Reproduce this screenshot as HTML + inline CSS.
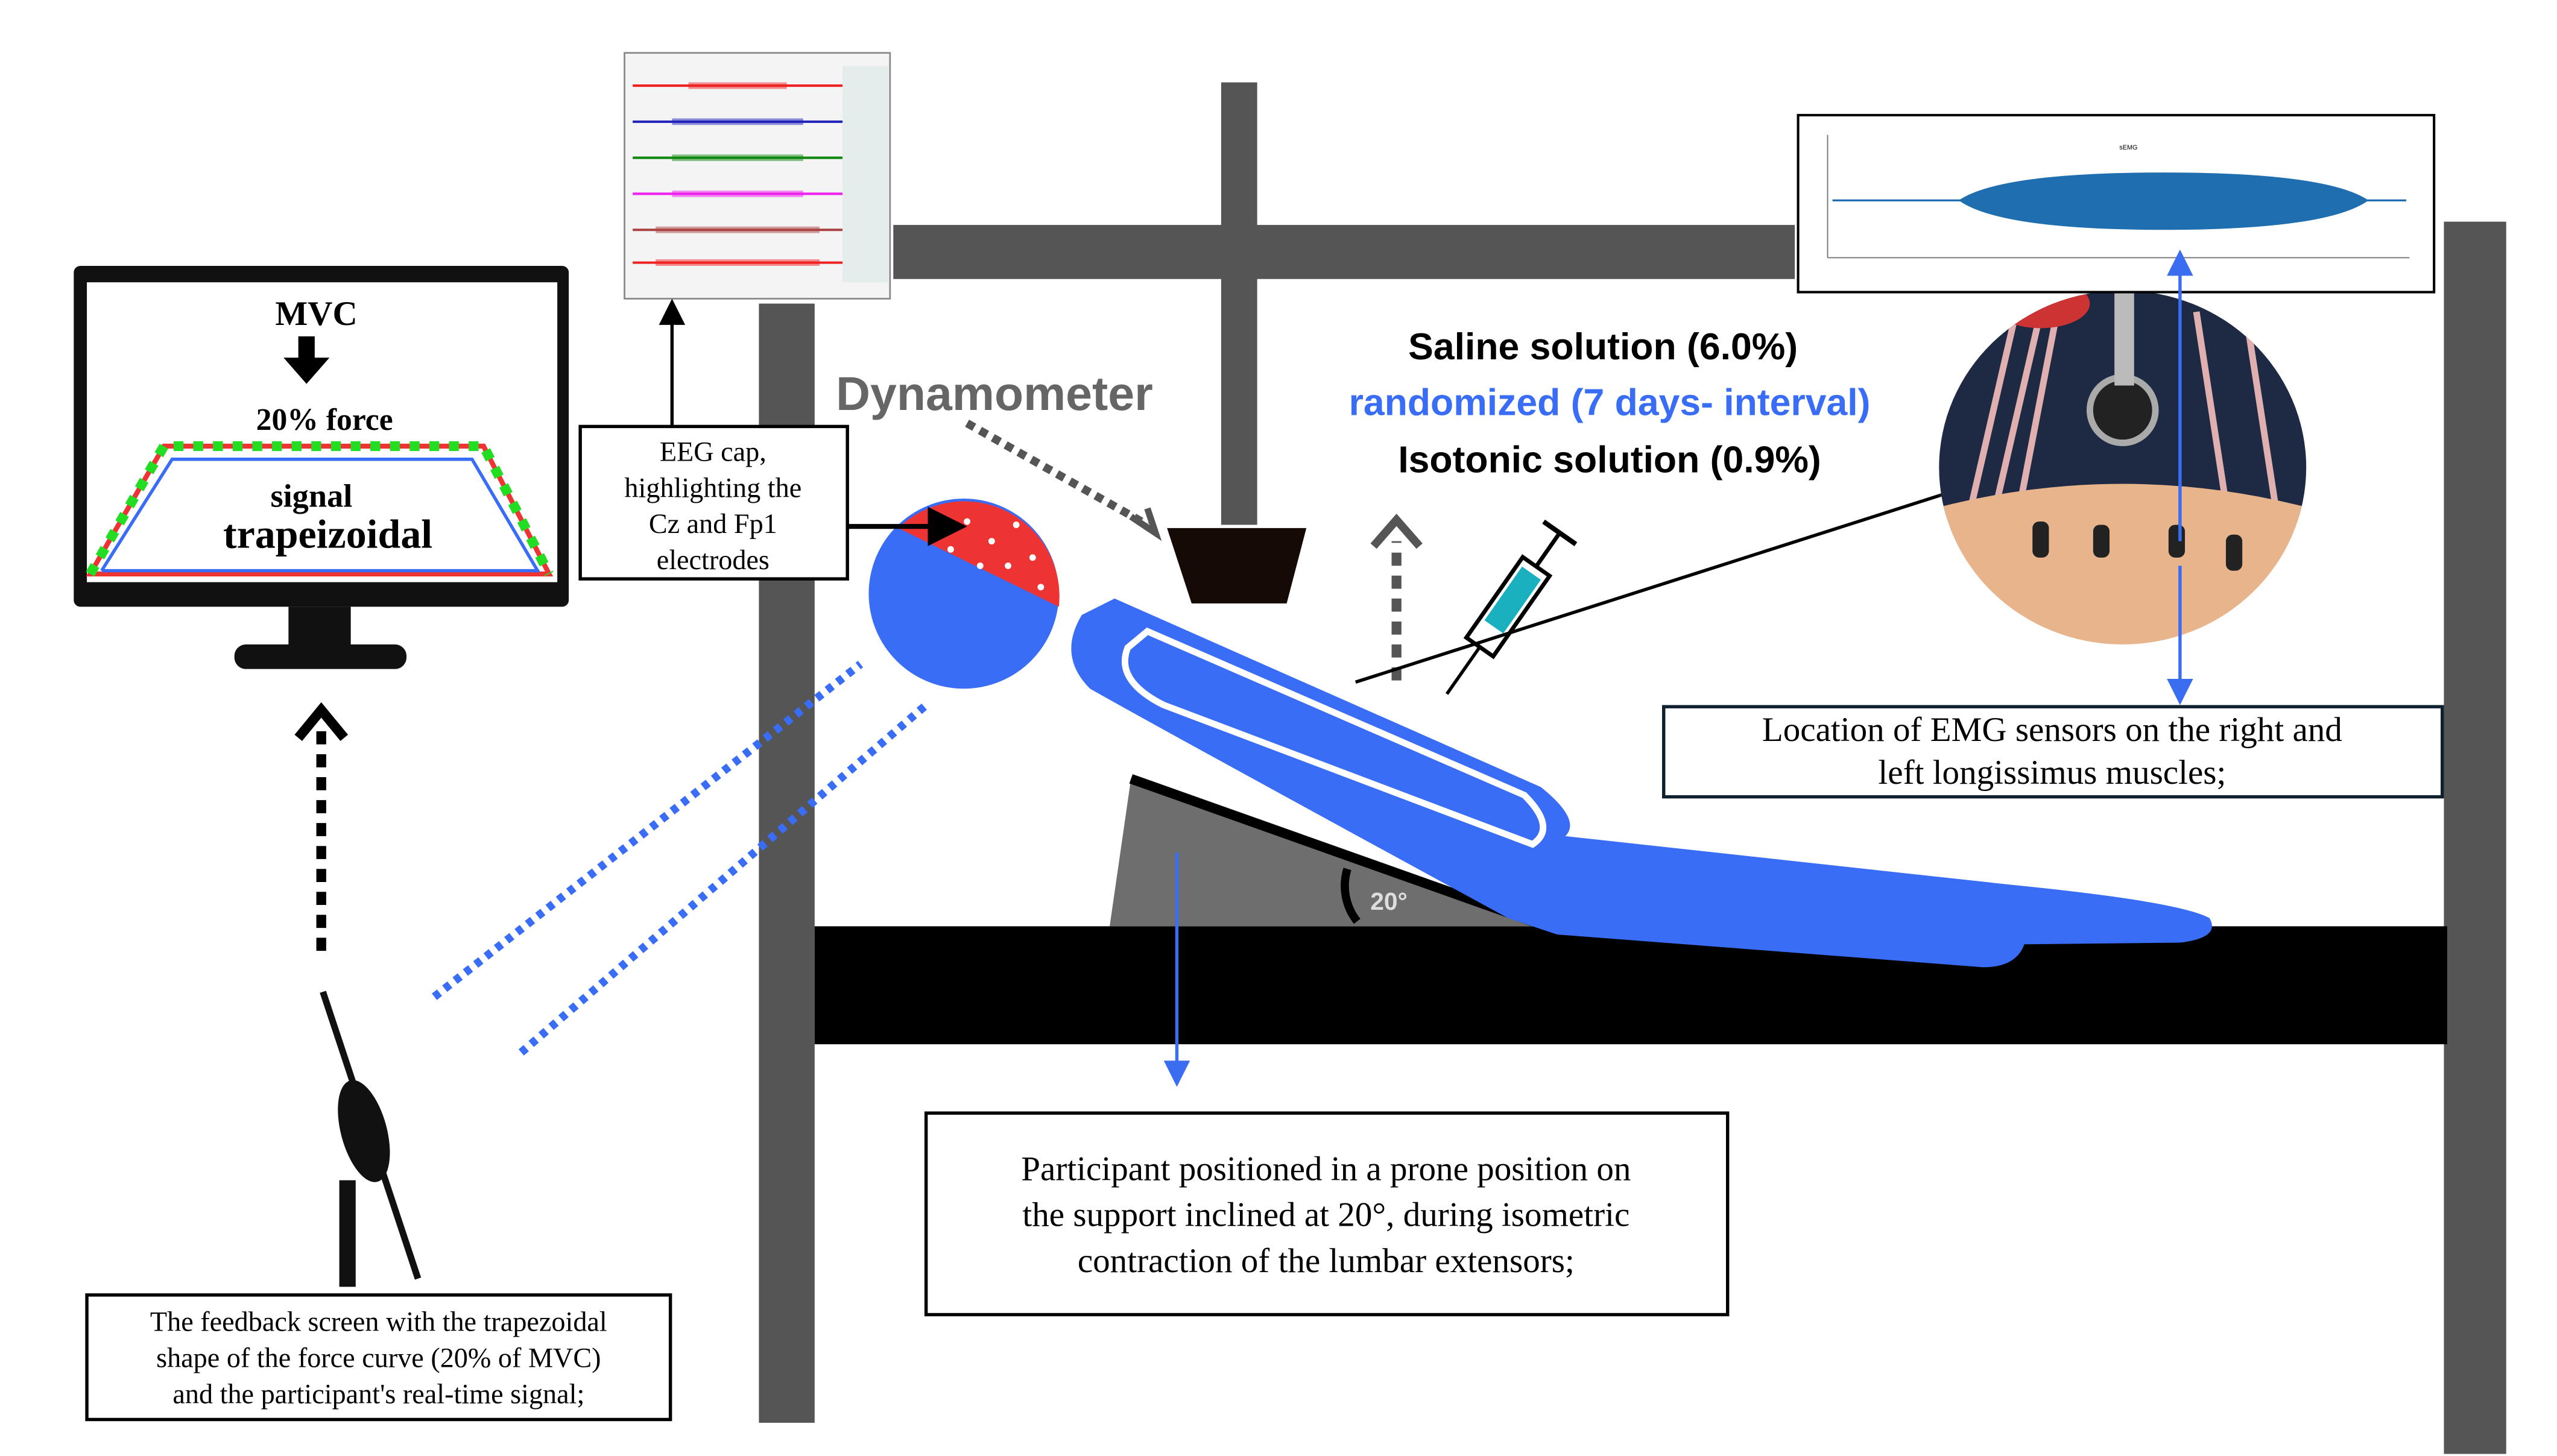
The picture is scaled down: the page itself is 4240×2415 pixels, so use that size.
<!DOCTYPE html>
<html><head><meta charset="utf-8"><style>
html,body{margin:0;padding:0;background:#fff;}
svg{display:block;}
.serif{font-family:"Liberation Serif",serif;}
.sans{font-family:"Liberation Sans","DejaVu Sans",sans-serif;}
</style></head><body>
<svg width="4240" height="2415" viewBox="0 0 1560 888" xmlns="http://www.w3.org/2000/svg">
<defs>
<marker id="ab" markerWidth="8" markerHeight="8" refX="4" refY="4" orient="auto"><path d="M0,0 L8,4 L0,8 z" fill="#000"/></marker>
<marker id="abl" markerWidth="8" markerHeight="8" refX="4" refY="4" orient="auto"><path d="M0,0 L8,4 L0,8 z" fill="#3a6df0"/></marker>
<radialGradient id="ph" cx="0.5" cy="0.5" r="0.5"><stop offset="0.75" stop-color="#e8b48c"/><stop offset="1" stop-color="#fff" stop-opacity="0"/></radialGradient>
<clipPath id="pc"><ellipse cx="1295" cy="285" rx="112" ry="108"/></clipPath>
</defs>
<rect width="1560" height="888" fill="#fff"/>
<rect x="545" y="137" width="550" height="33" fill="#555"/>
<rect x="745" y="50" width="22" height="270" fill="#555"/>
<rect x="463" y="185" width="34" height="683" fill="#555"/>
<rect x="1491" y="135" width="38" height="752" fill="#555"/>
<rect x="497" y="565" width="996" height="72" fill="#000"/>
<polygon points="677,565 690,475 935,565" fill="#6e6e6e"/>
<line x1="690" y1="475" x2="935" y2="562" stroke="#000" stroke-width="6"/>
<path d="M828,562 A35,35 0 0 1 822,530" fill="none" stroke="#000" stroke-width="5"/>
<text x="836" y="555" class="sans" font-size="15" font-weight="bold" fill="#ddd">20°</text>
<polygon points="712,322 797,322 785,368 727,368" fill="#150a05"/>
<text x="510" y="250" class="sans" font-size="29" font-weight="bold" fill="#666">Dynamometer</text>
<line x1="590" y1="258" x2="700" y2="320" stroke="#555" stroke-width="5" stroke-dasharray="5,4"/>
<path d="M690,315 L705,325 L700,310" fill="none" stroke="#555" stroke-width="4"/>
<path d="M680,365 L940,480 Q965,500 955,510 L1230,540 Q1330,550 1348,560 Q1355,572 1330,575 L1235,576 Q1230,590 1210,590 L950,570 L920,560 Q700,440 665,420 Q645,400 660,375 Z" fill="#3a6df6"/>
<path d="M700,385 L930,485 Q950,505 935,515 L710,430 Q680,415 688,395 Z" fill="none" stroke="#fff" stroke-width="4"/>
<circle cx="588" cy="362" r="58" fill="#3a6df6"/>
<path d="M548,322 A58,58 0 0 1 646,370 Z" fill="#ee3333"/>
<g fill="#fff"><circle cx="570" cy="320" r="2"/><circle cx="590" cy="318" r="2"/><circle cx="605" cy="330" r="2"/><circle cx="620" cy="320" r="2"/><circle cx="615" cy="345" r="2"/><circle cx="630" cy="340" r="2"/><circle cx="635" cy="358" r="2"/><circle cx="598" cy="345" r="2"/><circle cx="580" cy="335" r="2"/></g>
<line x1="265" y1="608" x2="525" y2="405" stroke="#3a6df6" stroke-width="5" stroke-dasharray="4,4"/>
<line x1="318" y1="642" x2="565" y2="430" stroke="#3a6df6" stroke-width="5" stroke-dasharray="4,4"/>
<rect x="45" y="162" width="302" height="208" rx="4" fill="#111"/>
<rect x="53" y="172" width="287" height="183" fill="#fff"/>
<rect x="176" y="370" width="38" height="25" fill="#111"/>
<rect x="143" y="393" width="105" height="15" rx="7" fill="#111"/>
<text x="193" y="198" class="serif" font-size="21" font-weight="bold" text-anchor="middle">MVC</text>
<path d="M182,205 h10 v13 h9 l-14,16 l-14,-16 h9 z" fill="#000"/>
<text x="198" y="262" class="serif" font-size="19" font-weight="bold" text-anchor="middle">20% force</text>
<polygon points="55,350 100,272 295,272 335,350" fill="none" stroke="#ee3333" stroke-width="3"/>
<polyline points="62,348 105,280 288,280 328,348 62,348" fill="none" stroke="#3a6df6" stroke-width="2"/>
<polyline points="55,350 100,272 295,272 335,350" fill="none" stroke="#22dd22" stroke-width="6" stroke-dasharray="6,6"/>
<text x="190" y="309" class="serif" font-size="20" font-weight="bold" text-anchor="middle">signal</text>
<text x="200" y="334" class="serif" font-size="25" font-weight="bold" text-anchor="middle">trapeizoidal</text>
<line x1="196" y1="580" x2="196" y2="445" stroke="#000" stroke-width="6" stroke-dasharray="8,6"/>
<path d="M182,450 L196,433 L210,450" fill="none" stroke="#000" stroke-width="6"/>
<line x1="197" y1="605" x2="255" y2="780" stroke="#111" stroke-width="4"/>
<ellipse cx="222" cy="690" rx="14" ry="32" fill="#111" transform="rotate(-15 222 690)"/>
<line x1="212" y1="720" x2="212" y2="785" stroke="#111" stroke-width="10"/>
<rect x="53" y="790" width="356" height="76" fill="#fff" stroke="#000" stroke-width="2"/>
<text class="serif" font-size="17" text-anchor="middle"><tspan x="231" y="812">The feedback screen with the trapezoidal</tspan><tspan x="231" y="834">shape of the force curve (20% of MVC)</tspan><tspan x="231" y="856">and the participant's real-time signal;</tspan></text>
<rect x="381" y="32" width="162" height="150" fill="#f4f4f4" stroke="#888"/>
<rect x="514" y="40" width="28" height="132" fill="#e4ecec"/>
<g stroke-width="1.5" fill="none">
<path d="M386,52 l128,0" stroke="#e22"/><path d="M386,74 l128,0" stroke="#22b"/><path d="M386,96 l128,0" stroke="#181"/><path d="M386,118 l128,0" stroke="#e2e"/><path d="M386,140 l128,0" stroke="#a44"/><path d="M386,160 l128,0" stroke="#e22"/>
</g>
<g stroke-width="4" stroke-opacity="0.5"><path d="M420,52h60" stroke="#e22"/><path d="M410,74h80" stroke="#22b"/><path d="M410,96h80" stroke="#181"/><path d="M410,118h80" stroke="#e2e"/><path d="M400,140h100" stroke="#a44"/><path d="M400,160h100" stroke="#e22"/></g>
<line x1="410" y1="260" x2="410" y2="190" stroke="#000" stroke-width="2" marker-end="url(#ab)"/>
<rect x="354" y="260" width="163" height="93" fill="#fff" stroke="#000" stroke-width="2"/>
<text class="serif" font-size="17" text-anchor="middle"><tspan x="435" y="281">EEG cap,</tspan><tspan x="435" y="303">highlighting the</tspan><tspan x="435" y="325">Cz and Fp1</tspan><tspan x="435" y="347">electrodes</tspan></text>
<line x1="517" y1="321" x2="578" y2="321" stroke="#000" stroke-width="3" marker-end="url(#ab)"/>
<text x="978" y="219" class="sans" font-size="23" font-weight="bold" text-anchor="middle">Saline solution (6.0%)</text>
<text x="982" y="253" class="sans" font-size="23" font-weight="bold" text-anchor="middle" fill="#3a6df6">randomized (7 days- interval)</text>
<text x="982" y="288" class="sans" font-size="23" font-weight="bold" text-anchor="middle">Isotonic  solution (0.9%)</text>
<line x1="852" y1="415" x2="852" y2="330" stroke="#555" stroke-width="6" stroke-dasharray="8,6"/>
<path d="M838,333 L852,317 L866,333" fill="none" stroke="#555" stroke-width="5"/>
<g transform="rotate(-55 920 370)">
<rect x="890" y="360" width="60" height="20" fill="#fff" stroke="#000" stroke-width="2.5"/>
<rect x="905" y="363" width="40" height="14" fill="#1ab0c0"/>
<line x1="950" y1="370" x2="975" y2="370" stroke="#000" stroke-width="2.5"/>
<line x1="975" y1="358" x2="975" y2="382" stroke="#000" stroke-width="3"/>
<line x1="855" y1="370" x2="890" y2="370" stroke="#000" stroke-width="2"/>
</g>
<line x1="827" y1="416" x2="1190" y2="300" stroke="#000" stroke-width="2"/>
<ellipse cx="1295" cy="285" rx="115" ry="110" fill="url(#ph)"/>
<g clip-path="url(#pc)">
<rect x="1180" y="175" width="230" height="140" fill="#1e2a44"/>
<g stroke="#e0b0b0" stroke-width="4"><line x1="1200" y1="320" x2="1230" y2="190"/><line x1="1230" y1="320" x2="1255" y2="190"/><line x1="1360" y1="320" x2="1340" y2="190"/><line x1="1390" y1="320" x2="1370" y2="190"/><line x1="1215" y1="320" x2="1245" y2="190"/></g>
<path d="M1180,310 Q1295,280 1410,310 L1410,400 L1180,400 Z" fill="#e8b48c"/>
<ellipse cx="1245" cy="185" rx="30" ry="15" fill="#cc3333"/>
<circle cx="1295" cy="250" r="20" fill="#222" stroke="#aaa" stroke-width="4"/>
<rect x="1290" y="175" width="12" height="60" fill="#bbb"/>
<g fill="#222"><rect x="1240" y="318" width="10" height="22" rx="4"/><rect x="1277" y="320" width="10" height="20" rx="4"/><rect x="1323" y="320" width="10" height="20" rx="4"/><rect x="1358" y="326" width="10" height="22" rx="4"/></g>
</g>
<rect x="1097" y="70" width="388" height="108" fill="#fff" stroke="#000" stroke-width="1.5"/>
<line x1="1115" y1="82" x2="1115" y2="157" stroke="#777" stroke-width="0.7"/>
<line x1="1115" y1="157" x2="1470" y2="157" stroke="#777" stroke-width="0.7"/>
<line x1="1118" y1="122" x2="1468" y2="122" stroke="#1f6fb0" stroke-width="1.2"/>
<path d="M1195,122 Q1220,105 1320,105 Q1420,105 1445,122 Q1420,140 1320,140 Q1220,140 1195,122 Z" fill="#1f6fb0"/>
<text x="1293" y="91" class="sans" font-size="4">sEMG</text>
<line x1="1330" y1="330" x2="1330" y2="160" stroke="#3a6df0" stroke-width="2" marker-end="url(#abl)"/>
<line x1="1330" y1="345" x2="1330" y2="422" stroke="#3a6df0" stroke-width="2" marker-end="url(#abl)"/>
<rect x="1015" y="431" width="475" height="55" fill="#fff" stroke="#0f2030" stroke-width="2"/>
<text class="serif" font-size="21" text-anchor="middle"><tspan x="1252" y="452">Location of EMG sensors on the right and</tspan><tspan x="1252" y="478">left longissimus muscles;</tspan></text>
<line x1="718" y1="520" x2="718" y2="655" stroke="#3a6df0" stroke-width="2" marker-end="url(#abl)"/>
<rect x="565" y="679" width="489" height="123" fill="#fff" stroke="#000" stroke-width="2"/>
<text class="serif" font-size="21" text-anchor="middle"><tspan x="809" y="720">Participant positioned in a prone position on</tspan><tspan x="809" y="748">the support inclined at 20°, during isometric</tspan><tspan x="809" y="776">contraction of the lumbar extensors;</tspan></text>
</svg>
</body></html>
